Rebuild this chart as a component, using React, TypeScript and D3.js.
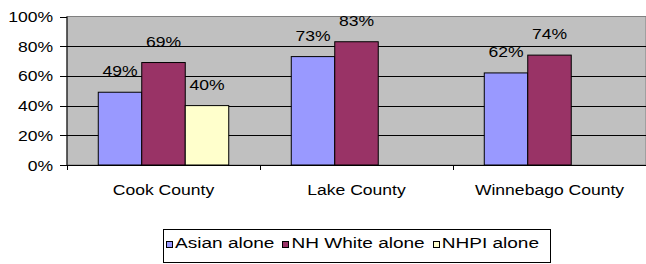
import React, { useEffect, useRef } from 'react'
import * as d3 from 'd3'

const categories = ['Cook County', 'Lake County', 'Winnebago County']
const seriesNames = ['Asian alone', 'NH White alone', 'NHPI alone']
const asianAlone = [0.49, 0.73, 0.62]
const nhWhiteAlone = [0.69, 0.83, 0.74]
const nhpiAlone: (number | null)[] = [0.40, null, null]
const yTicks = [0, 0.2, 0.4, 0.6, 0.8, 1]
const colors = ['#9999FF', '#993366', '#FFFFCC']

const width = 646
const height = 264
const margin = { top: 16.5, right: 0, bottom: 99, left: 67 }
const stretch = 1.17
const legendStretch = 1.27
const fontSize = 15

const App = () => {
  const ref = useRef<SVGSVGElement>(null)

  useEffect(() => {
    const svg = d3.select(ref.current)
    svg.selectAll('*').remove()
    const font = '"Liberation Sans", Arial, sans-serif'

    const series = [asianAlone, nhWhiteAlone, nhpiAlone]

    const x0 = d3.scaleBand()
      .domain(categories)
      .range([margin.left, width - margin.right])
      .padding(0)

    const x1 = d3.scaleBand()
      .domain(seriesNames)
      .range([0, x0.bandwidth() * 0.676])
      .padding(0)

    const groupOffset = (x0.bandwidth() - x1.range()[1]) / 2

    const y = d3.scaleLinear()
      .domain([0, 1])
      .range([height - margin.bottom, margin.top])

    const text = (g, tx, ty, str, anchor, sx = stretch) => g.append('text')
      .attr('transform', `translate(${tx},${ty}) scale(${sx},1)`)
      .attr('text-anchor', anchor)
      .attr('font-family', font)
      .attr('font-size', fontSize)
      .attr('fill', '#000')
      .text(str)

    // plot area
    svg.append('rect')
      .attr('x', margin.left)
      .attr('y', y(1))
      .attr('width', width - margin.right - margin.left)
      .attr('height', y(0) - y(1))
      .attr('fill', '#C0C0C0')
      .attr('stroke', '#808080')

    // gridlines
    svg.append('g')
      .selectAll('line')
      .data(yTicks.filter(t => t > 0 && t < 1))
      .join('line')
      .attr('x1', margin.left)
      .attr('x2', width - margin.right)
      .attr('y1', d => Math.round(y(d)) + 0.5)
      .attr('y2', d => Math.round(y(d)) + 0.5)
      .attr('stroke', '#000')
      .attr('stroke-width', 1)

    // bars
    const gBars = svg.append('g')
    series.forEach((vals, si) => {
      gBars.append('g')
        .selectAll('rect')
        .data(categories.map((c, i) => ({ c, v: vals[i] })).filter(d => d.v != null))
        .join('rect')
        .attr('x', d => x0(d.c) + groupOffset + x1(seriesNames[si]))
        .attr('y', d => y(d.v))
        .attr('width', x1.bandwidth())
        .attr('height', d => y(0) - y(d.v))
        .attr('fill', colors[si])
        .attr('stroke', '#000')
        .attr('stroke-width', 1)
    })

    // data labels
    const gLabels = svg.append('g')
    series.forEach((vals, si) => {
      categories.forEach((c, i) => {
        const v = vals[i]
        if (v == null) return
        text(gLabels, x0(c) + groupOffset + x1(seriesNames[si]) + x1.bandwidth() / 2, y(v) - 16,
          d3.format('.0%')(v), 'middle')
      })
    })

    // y axis
    const gy = svg.append('g')
    gy.append('line')
      .attr('x1', margin.left).attr('x2', margin.left)
      .attr('y1', y(1)).attr('y2', y(0))
      .attr('stroke', '#000')
    yTicks.forEach(t => {
      gy.append('line')
        .attr('x1', margin.left - 7).attr('x2', margin.left)
        .attr('y1', Math.round(y(t)) + 0.5).attr('y2', Math.round(y(t)) + 0.5)
        .attr('stroke', '#000')
      text(gy, margin.left - 14, y(t) + 5.5, d3.format('.0%')(t), 'end')
    })

    // x axis
    const gx = svg.append('g')
    gx.append('line')
      .attr('x1', margin.left).attr('x2', width - margin.right)
      .attr('y1', Math.round(y(0)) + 0.5).attr('y2', Math.round(y(0)) + 0.5)
      .attr('stroke', '#000')
    categories.forEach((c, i) => {
      gx.append('line')
        .attr('x1', Math.round(x0(c)) + 0.5).attr('x2', Math.round(x0(c)) + 0.5)
        .attr('y1', y(0)).attr('y2', y(0) + 5)
        .attr('stroke', '#000')
      text(gx, x0(c) + x0.bandwidth() / 2, 195, c, 'middle')
    })

    // legend
    const legend = { x: 163.5, y: 229.5, h: 33 }
    const gl = svg.append('g')
    const box = gl.append('rect')
      .attr('x', legend.x)
      .attr('y', legend.y)
      .attr('height', legend.h)
      .attr('fill', '#fff')
      .attr('stroke', '#000')
    let cx = legend.x + 2.5
    seriesNames.forEach((name, si) => {
      gl.append('rect')
        .attr('x', Math.round(cx) + 0.5)
        .attr('y', 241.5)
        .attr('width', 6)
        .attr('height', 6)
        .attr('fill', colors[si])
        .attr('stroke', '#000')
      const t = text(gl, cx + 9, 248, name, 'start', legendStretch)
      const w = (t.node() as SVGTextElement).getComputedTextLength() * legendStretch
      cx = cx + 9 + w + 8
    })
    box.attr('width', Math.round(cx - legend.x + 3))
  }, [])

  return (
    <svg width={width} height={height} ref={ref}
      style={{ position: 'absolute', left: 0, top: 0, background: '#fff' }} />
  )
}

export default App
